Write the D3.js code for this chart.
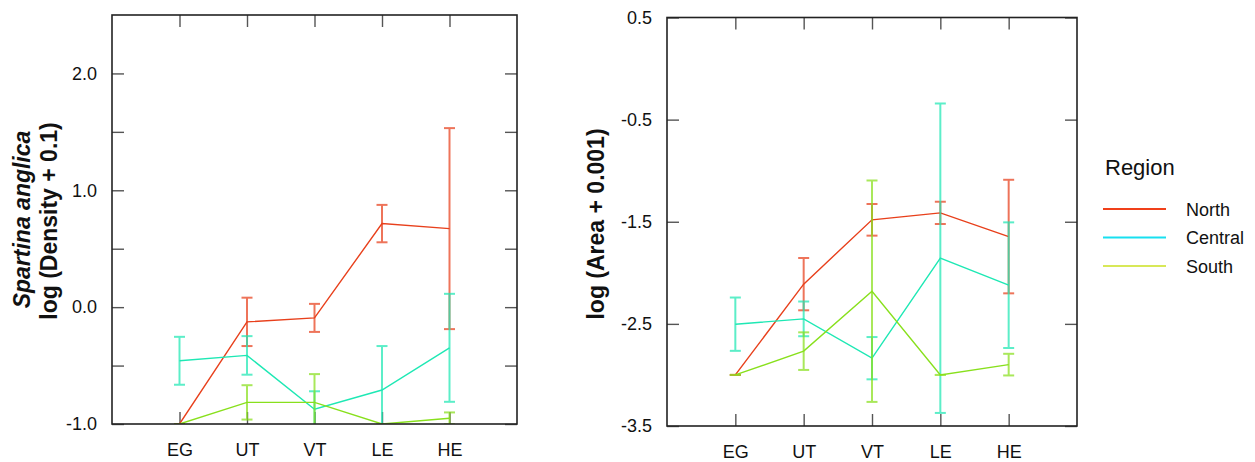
<!DOCTYPE html>
<html>
<head>
<meta charset="utf-8">
<script src="https://cdn.jsdelivr.net/npm/d3@7"></script>
<style>
   body { margin: 0; background: #fff; }
   svg { font-family: 'Liberation Sans', Arial, sans-serif; }
</style>
</head>
<body>
<div id="chart"></div>
<script>
// categories along x
const categories = ['EG', 'UT', 'VT', 'LE', 'HE'];
const regions = ['North', 'Central', 'South'];

// left panel: log (Density + 0.1)
const densityNorth = [-1.0, -0.126, -0.092, 0.715, 0.672];
const densityNorthErr = [0, 0.207, 0.12, 0.16, 0.86];
const densityCentral = [-0.459, -0.413, -0.874, -0.709, -0.348];
const densityCentralErr = [0.205, 0.165, 0.154, 0.376, 0.462];
const densitySouth = [-1.0, -0.815, -0.815, -1.0, -0.951];
const densitySouthErr = [0, 0.147, 0.242, 0, 0.05];
const densityTicks = [-1.0, -0.5, 0.0, 0.5, 1.0, 1.5, 2.0];

// right panel: log (Area + 0.001)
const areaNorth = [-3.0, -2.111, -1.481, -1.413, -1.645];
const areaNorthErr = [0, 0.256, 0.155, 0.109, 0.556];
const areaCentral = [-2.503, -2.451, -2.836, -1.857, -2.121];
const areaCentralErr = [0.261, 0.17, 0.207, 1.515, 0.615];
const areaSouth = [-3.0, -2.767, -2.18, -3.0, -2.899];
const areaSouthErr = [0, 0.184, 1.084, 0, 0.106];
const areaTicks = [0.5, -0.5, -1.5, -2.5, -3.5];

const lineColors = ['#e8401c', '#1ee8b4', '#88e01c'];
const legendColors = ['#f0401a', '#18e0f0', '#d8e858'];

// plain hyphen for negatives, like the original
const fmt1 = (d) => d3.format('.1f')(d).replace('\u2212', '-');

const svg = d3.select('#chart')
   .append('svg')
   .attr('width', 1255)
   .attr('height', 462);

function drawPanel(cfg) {
   const { left, right, top, bottom, yDomain, ticks, labelFmt, series, id } = cfg;

   const x = d3.scaleLinear().domain([0, categories.length + 1]).range([left, right]);
   const y = d3.scaleLinear().domain(yDomain).range([bottom, top]);
   const catPos = categories.map((c, i) => i + 1);

   const g = svg.append('g').attr('class', 'panel');

   g.append('defs')
      .append('clipPath')
      .attr('id', id)
      .append('rect')
      .attr('x', left)
      .attr('y', top)
      .attr('width', right - left)
      .attr('height', bottom - top);

   // axes, ticks pointing inward
   const yAxisL = d3.axisLeft(y)
      .tickValues(ticks)
      .tickSize(-12)
      .tickPadding(15)
      .tickFormat(labelFmt);
   const yAxisR = d3.axisRight(y).tickValues(ticks).tickSize(-12).tickFormat('');
   const xAxisB = d3.axisBottom(x)
      .tickValues(catPos)
      .tickSize(-12)
      .tickPadding(19)
      .tickFormat((d) => categories[d - 1]);
   const xAxisT = d3.axisTop(x).tickValues(catPos).tickSize(-12).tickFormat('');

   const axes = [
      [yAxisL, `translate(${left},0)`],
      [yAxisR, `translate(${right},0)`],
      [xAxisB, `translate(0,${bottom})`],
      [xAxisT, `translate(0,${top})`],
   ];
   axes.forEach(([ax, tr]) => {
      const a = g.append('g').attr('transform', tr).call(ax);
      a.select('.domain').remove();
      a.selectAll('line').attr('stroke', '#555').attr('stroke-width', 1.4);
      a.selectAll('text')
         .attr('fill', '#111')
         .style('font-size', '18px')
         .style('font-family', "'Liberation Sans', Arial, sans-serif");
   });

   const plot = g.append('g').attr('clip-path', `url(#${id})`);

   const line = d3.line()
      .x((d, i) => x(i + 1))
      .y((d) => y(d));

   series.forEach((s, k) => {
      const col = lineColors[k];
      const bars = plot.append('g').attr('opacity', 0.72);
      s.values.forEach((v, i) => {
         const cx = x(i + 1);
         const e = s.err[i];
         bars.append('line')
            .attr('x1', cx).attr('x2', cx)
            .attr('y1', y(v - e)).attr('y2', y(v + e))
            .attr('stroke', col).attr('stroke-width', 2);
         [v - e, v + e].forEach((w) => {
            bars.append('line')
               .attr('x1', cx - 5.5).attr('x2', cx + 5.5)
               .attr('y1', y(w)).attr('y2', y(w))
               .attr('stroke', col).attr('stroke-width', 2);
         });
      });
      plot.append('path')
         .datum(s.values)
         .attr('d', line)
         .attr('fill', 'none')
         .attr('stroke', col)
         .attr('stroke-width', 1.4);
   });

   g.append('rect')
      .attr('x', left)
      .attr('y', top)
      .attr('width', right - left)
      .attr('height', bottom - top)
      .attr('fill', 'none')
      .attr('stroke', '#222')
      .attr('stroke-width', 1.6);

   return { x, y };
}

drawPanel({
   id: 'clipL',
   left: 112, right: 517, top: 15, bottom: 424,
   yDomain: [-1, 2.5],
   ticks: densityTicks,
   labelFmt: (d) => (Number.isInteger(d) ? fmt1(d) : ''),
   series: [
      { values: densityNorth, err: densityNorthErr },
      { values: densityCentral, err: densityCentralErr },
      { values: densitySouth, err: densitySouthErr },
   ],
});

drawPanel({
   id: 'clipR',
   left: 667, right: 1077, top: 17.5, bottom: 426,
   yDomain: [-3.5, 0.5],
   ticks: areaTicks,
   labelFmt: fmt1,
   series: [
      { values: areaNorth, err: areaNorthErr },
      { values: areaCentral, err: areaCentralErr },
      { values: areaSouth, err: areaSouthErr },
   ],
});

// y axis titles
svg.append('text')
   .attr('transform', 'translate(30,219.5) rotate(-90)')
   .attr('text-anchor', 'middle')
   .style('font-size', '23px')
   .style('font-weight', 'bold')
   .style('font-style', 'italic')
   .attr('fill', '#111')
   .text('Spartina anglica');
svg.append('text')
   .attr('transform', 'translate(57,221) rotate(-90)')
   .attr('text-anchor', 'middle')
   .style('font-size', '23px')
   .style('font-weight', 'bold')
   .attr('fill', '#111')
   .text('log (Density + 0.1)');
svg.append('text')
   .attr('transform', 'translate(604,224) rotate(-90)')
   .attr('text-anchor', 'middle')
   .style('font-size', '23px')
   .style('font-weight', 'bold')
   .attr('fill', '#111')
   .text('log (Area + 0.001)');

// legend
const legend = svg.append('g').attr('class', 'legend');
legend.append('text')
   .attr('x', 1105)
   .attr('y', 175)
   .style('font-size', '22px')
   .attr('fill', '#111')
   .text('Region');
const legendY = d3.scalePoint().domain(regions).range([209, 266]);
regions.forEach((r, i) => {
   legend.append('line')
      .attr('x1', 1103).attr('x2', 1166)
      .attr('y1', legendY(r)).attr('y2', legendY(r))
      .attr('stroke', legendColors[i])
      .attr('stroke-width', 2.2);
   legend.append('text')
      .attr('x', 1186)
      .attr('y', legendY(r) + 6.5)
      .style('font-size', '18px')
      .attr('fill', '#111')
      .text(r);
});
</script>
</body>
</html>
